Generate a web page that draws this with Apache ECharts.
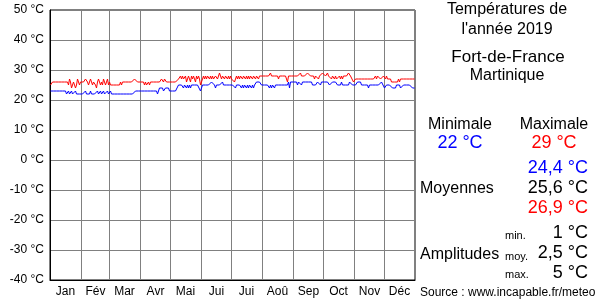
<!DOCTYPE html>
<html><head><meta charset="utf-8">
<script src="https://cdn.jsdelivr.net/npm/echarts@6/dist/echarts.min.js"></script>
<style>html,body{margin:0;padding:0;background:#fff}#c{width:600px;height:300px}</style>
</head><body><div id="c"></div>
<script>
const months = ['Jan','Fév','Mar','Avr','Mai','Jui','Jui','Aoû','Sep','Oct','Nov','Déc'];
const monthLengths = [31,28,31,30,31,30,31,31,30,31,30,31];
const yTicks = [-40,-30,-20,-10,0,10,20,30,40,50];
// daily minimum temperatures, one array per month
const tMin = [
 [23,23,23,23,23,23,23,23,23,23,23,23,23,23,23,23,22,22,23,22,22,23,22,22,22,23,22,22,22,22,22],
 [22,22,22,22,23,22,22,22,22,23,22,22,22,22,22,22,23,22,22,23,22,22,23,22,22,22,23,22],
 [22,23,22,22,22,22,22,22,22,22,22,22,22,22,22,22,22,22,22,22,22,22,22,22,22,22,23,23,23,23,23],
 [23,23,23,23,23,23,23,23,23,23,23,23,23,23,23,23,23,22,22,24,24,24,24,23,23,24,24,24,24,23],
 [23,23,23,23,23,23,23,23,25,25,25,25,25,24,25,25,24,25,24,25,24,25,25,25,25,25,25,25,25,25,23],
 [23,25,25,25,25,25,25,25,25,25,26,26,26,25,24,25,25,25,25,25,25,26,25,25,25,25,25,25,25,25],
 [25,25,25,25,24,25,25,25,25,25,24,25,24,25,25,24,25,24,25,25,24,25,24,25,25,26,26,26,26,26,25],
 [25,25,25,25,25,25,25,24,25,24,25,25,24,25,25,25,25,25,25,25,25,25,25,25,25,25,26,24,26,26,26],
 [26,26,26,26,25,26,26,26,25,26,26,26,26,26,26,26,26,26,26,25,25,25,25,25,26,26,26,25,26,26],
 [26,26,26,26,26,26,25,25,25,26,26,26,26,26,25,25,25,25,26,25,25,25,25,25,25,25,26,26,26,25,25],
 [25,25,25,26,26,26,26,25,25,25,25,25,25,25,24,25,25,25,25,25,25,25,25,25,25,25,25,26,26,26],
 [24,24,25,25,25,25,25,25,24,24,24,24,25,25,25,25,24,24,24,25,25,25,25,25,25,25,25,25,24,24,24]
];
// daily maximum temperatures, one array per month
const tMax = [
 [25,25,26,26,26,26,26,26,26,26,26,26,26,26,26,26,26,26,25,27,26,24,25,26,26,24,25,27,26,25,26],
 [26,26,26,26,27,27,26,25,26,27,26,25,26,26,25,24,26,27,26,25,26,25,27,26,25,26,27,25],
 [26,25,25,25,25,25,25,25,25,25,25,26,25,26,26,26,26,26,26,26,26,26,26,26,26,27,27,27,26,26,26],
 [26,26,26,26,25,26,25,25,26,25,26,26,26,26,26,26,26,26,26,26,26,27,27,26,27,27,26,26,26,26],
 [26,26,26,26,26,26,26,26,27,27,28,27,28,27,27,28,26,27,28,27,26,28,27,28,27,26,28,27,28,27,25],
 [26,27,28,27,28,27,28,28,27,28,27,28,27,27,28,28,27,28,29,28,27,28,28,27,28,28,27,28,27,28],
 [27,27,27,26,27,28,27,28,27,28,28,27,28,28,27,28,27,28,27,28,28,27,28,28,27,28,28,27,28,28,28],
 [28,28,28,28,28,28,28,28,29,28,28,28,28,28,28,28,27,28,28,28,28,28,28,28,28,26,28,28,28,28,28],
 [28,28,28,28,28,28,28,29,28,28,28,28,28,28,29,29,29,28,28,28,28,27,28,28,28,27,28,28,28,29],
 [29,29,28,28,29,28,28,28,27,28,28,27,28,27,27,27,28,27,28,27,28,28,28,28,28,29,29,28,28,28,26],
 [26,27,27,27,27,27,27,27,27,27,27,27,27,27,27,27,27,27,27,27,27,28,27,28,28,28,27,27,27,28],
 [28,27,28,27,27,27,27,26,26,26,26,26,26,26,27,26,27,27,27,27,27,27,27,27,27,27,27,27,27,27,27]
];

const minSeries = tMin.flat();
const maxSeries = tMax.flat();
const days = minSeries.map((_, i) => String(i));
const monthStart = [], monthMid = {};
let acc = 0;
monthLengths.forEach((len, m) => { monthStart.push(acc); monthMid[acc + Math.floor(len / 2)] = months[m]; acc += len; });

const FONT = '"Liberation Sans", Arial, sans-serif';
const chart = echarts.init(document.getElementById('c'), null, {renderer: 'canvas'});
const txt = (x, y, text, size, color, align) => ({
  type: 'text', x, y,
  style: {text, fontSize: size, fontFamily: FONT, fill: color, textAlign: align || 'center', textVerticalAlign: 'middle'}
});
chart.setOption({
  animation: false,
  backgroundColor: '#fff',
  grid: {left: 50, top: 10, width: 365, height: 270, show: true, borderColor: '#000', borderWidth: 1, containLabel: false},
  xAxis: {
    type: 'category', data: days, boundaryGap: true,
    axisLine: {show: true, onZero: false, lineStyle: {color: '#000', width: 1}},
    axisTick: {show: false},
    axisLabel: {
      interval: (i) => monthMid[i] !== undefined,
      formatter: (v, i) => monthMid[i] || '',
      color: '#000', fontSize: 12, fontFamily: FONT, margin: 6
    },
    splitLine: {show: true, interval: (i) => i > 0 && monthStart.indexOf(i) >= 0, lineStyle: {color: '#808080', width: 1}}
  },
  yAxis: {
    type: 'value', min: yTicks[0], max: yTicks[yTicks.length - 1], interval: 10,
    axisLine: {show: true, lineStyle: {color: '#000'}},
    axisTick: {show: false},
    axisLabel: {formatter: '{value} °C', color: '#000', fontSize: 12, fontFamily: FONT, margin: 6},
    splitLine: {show: true, lineStyle: {color: '#808080', width: 1}}
  },
  series: [
    {type: 'line', data: maxSeries, symbol: 'none', lineStyle: {color: '#ff0000', width: 1}, z: 3},
    {type: 'line', data: minSeries, symbol: 'none', lineStyle: {color: '#0000ff', width: 1}, z: 3}
  ],
  graphic: [
    txt(507, 10, 'Températures de', 16, '#000'),
    txt(507, 30, "l'année 2019", 16, '#000'),
    txt(508, 57, 'Fort-de-France', 17, '#000'),
    txt(507, 76, 'Martinique', 16, '#000'),
    txt(460, 125, 'Minimale', 16, '#000'),
    txt(554, 125, 'Maximale', 16, '#000'),
    txt(460, 143, '22 °C', 18, '#0000ff'),
    txt(554, 143, '29 °C', 18, '#ff0000'),
    txt(588, 168, '24,4 °C', 18, '#0000ff', 'right'),
    txt(420, 189, 'Moyennes', 16, '#000', 'left'),
    txt(588, 188, '25,6 °C', 18, '#000', 'right'),
    txt(588, 208, '26,9 °C', 18, '#ff0000', 'right'),
    txt(505, 236, 'min.', 11, '#000', 'left'),
    txt(588, 233, '1 °C', 18, '#000', 'right'),
    txt(420, 255, 'Amplitudes', 16, '#000', 'left'),
    txt(505, 257, 'moy.', 11, '#000', 'left'),
    txt(588, 253, '2,5 °C', 18, '#000', 'right'),
    txt(505, 275, 'max.', 11, '#000', 'left'),
    txt(588, 273, '5 °C', 18, '#000', 'right'),
    txt(420, 293, 'Source : www.incapable.fr/meteo', 12, '#000', 'left')
  ]
});
</script></body></html>
